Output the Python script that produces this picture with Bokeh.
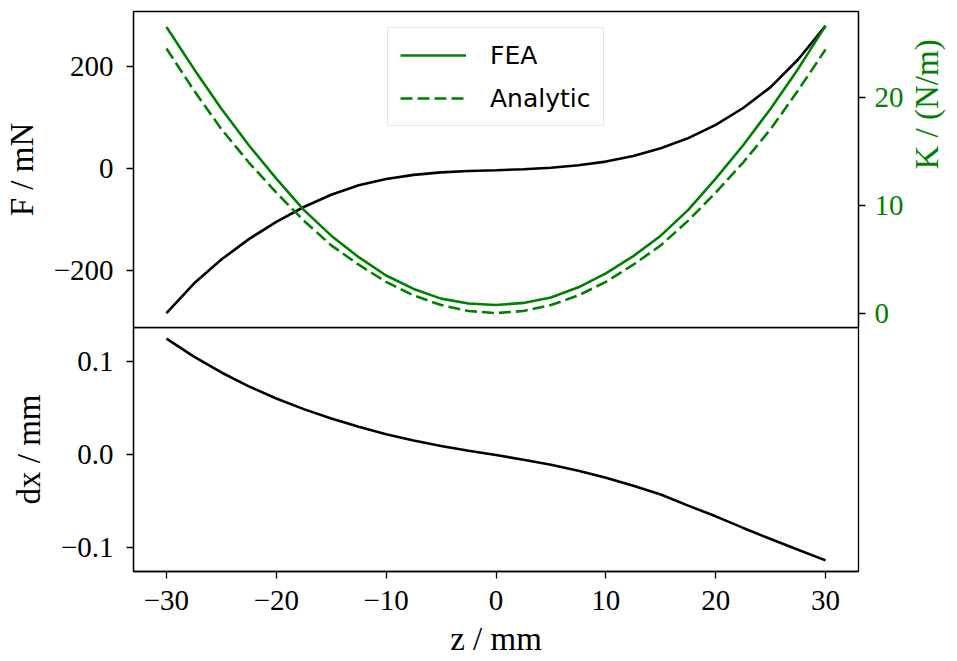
import math
from bokeh.plotting import figure
from bokeh.models import Range1d, LinearAxis, FixedTicker, Legend, LegendItem
from bokeh.layouts import column
from bokeh.embed import file_html
from bokeh.resources import INLINE

# ---------------- data ----------------
z = [-30, -27.5, -25, -22.5, -20, -17.5, -15, -12.5, -10, -7.5, -5, -2.5, 0,
     2.5, 5, 7.5, 10, 12.5, 15, 17.5, 20, 22.5, 25, 27.5, 30]

force_mN = [-283, -225, -178, -138, -104, -75, -51, -32.5, -20, -12, -7.2, -4.5, -3,
            -1, 2, 6.8, 14, 25, 40, 60, 86, 119, 160, 214, 280]

k_fea = [26.6, 22.7, 19.0, 15.6, 12.5, 9.6, 7.2, 5.2, 3.5, 2.25, 1.35, 0.9, 0.75,
         0.95, 1.45, 2.4, 3.7, 5.3, 7.2, 9.6, 12.5, 15.6, 19.0, 22.7, 26.7]

k_analytic = [24.6, 20.7, 17.1, 14.0, 11.2, 8.6, 6.3, 4.5, 2.9, 1.65, 0.75, 0.2, 0.0,
              0.2, 0.75, 1.65, 2.9, 4.5, 6.3, 8.6, 11.2, 14.0, 17.1, 20.7, 24.5]

dx_mm = [0.125, 0.1055, 0.0885, 0.0735, 0.0605, 0.049, 0.039, 0.030, 0.022, 0.0152, 0.0093, 0.0042, -0.0005,
         -0.0055, -0.011, -0.0175, -0.025, -0.0335, -0.043, -0.055, -0.0665, -0.079, -0.091, -0.1025, -0.114]

x_ticks = [-30, -20, -10, 0, 10, 20, 30]
f_ticks = [-200, 0, 200]
k_ticks = [0, 10, 20]
dx_ticks = [-0.1, 0, 0.1]


def padded(lo, hi, frac=0.05):
    m = (hi - lo) * frac
    return lo - m, hi + m


def minus(v):
    return str(v).replace("-", "\u2212")


SERIF = "Liberation Serif"
GREEN = "#008000"


def style_axis(ax, color="black", label_color="black", standoff=13, label_standoff=11):
    ax.major_label_text_font = SERIF
    ax.major_label_text_font_size = "29px"
    ax.major_label_text_color = color
    ax.axis_label_text_font = SERIF
    ax.axis_label_text_font_size = "33px"
    ax.axis_label_text_font_style = "normal"
    ax.axis_label_text_color = label_color
    ax.major_tick_out = 7
    ax.major_tick_in = 0
    ax.minor_tick_line_color = None
    ax.axis_line_width = 1.3
    ax.major_tick_line_width = 1.3
    ax.axis_line_color = "black"
    ax.major_tick_line_color = "black"
    ax.major_label_standoff = standoff
    ax.axis_label_standoff = label_standoff


x_range = Range1d(*padded(min(z), max(z)))

# ---------------- top panel ----------------
top = figure(frame_width=725, frame_height=316,
             min_border_left=133, min_border_right=90, min_border_top=11, min_border_bottom=12,
             x_range=x_range, y_range=Range1d(*padded(min(force_mN), max(force_mN))),
             x_axis_location=None, output_backend="svg", toolbar_location=None, tools="")
top.extra_y_ranges = {"K": Range1d(*padded(min(k_analytic), max(k_fea)))}
top.xgrid.visible = False
top.ygrid.visible = False
top.outline_line_color = "black"
top.outline_line_width = 1.3

top.yaxis.ticker = FixedTicker(ticks=f_ticks)
top.yaxis.major_label_overrides = {t: minus(t) for t in f_ticks}
top.yaxis.axis_label = "F / mN"
style_axis(top.yaxis[0])

raxis = LinearAxis(y_range_name="K", ticker=FixedTicker(ticks=k_ticks), axis_label="K / (N/m)")
style_axis(raxis, color=GREEN, label_color=GREEN, standoff=9, label_standoff=20)
try:
    raxis.axis_label_orientation = math.pi / 2
except Exception:
    pass
top.add_layout(raxis, "right")

top.line(z, force_mN, line_color="black", line_width=2.6)
r_fea = top.line(z, k_fea, line_color=GREEN, line_width=2.6, y_range_name="K")
r_an = top.line(z, k_analytic, line_color=GREEN, line_width=2.6, line_dash="12 5",
                y_range_name="K")

legend = Legend(items=[LegendItem(label="FEA", renderers=[r_fea]),
                       LegendItem(label="Analytic", renderers=[r_an])],
                location=(254, 201), label_text_font="DejaVu Sans", label_text_font_size="25px",
                label_text_color="black", glyph_width=66, glyph_height=30, label_height=30,
                label_standoff=24, spacing=13, padding=12, margin=0,
                border_line_color="#cccccc", border_line_width=1.3,
                background_fill_color="white", background_fill_alpha=0.8)
top.add_layout(legend)

# ---------------- bottom panel ----------------
bot = figure(frame_width=725, frame_height=244,
             min_border_left=133, min_border_right=90, min_border_top=0, min_border_bottom=80,
             x_range=x_range, y_range=Range1d(*padded(min(dx_mm), max(dx_mm))),
             output_backend="svg", toolbar_location=None, tools="",
             margin=(-12, 0, 0, 0))
bot.border_fill_alpha = 0
bot.background_fill_alpha = 0
bot.xgrid.visible = False
bot.ygrid.visible = False
bot.outline_line_color = "black"
bot.outline_line_width = 1.3

bot.xaxis.ticker = FixedTicker(ticks=x_ticks)
bot.xaxis.major_label_overrides = {t: minus(t) for t in x_ticks}
bot.xaxis.axis_label = "z / mm"
style_axis(bot.xaxis[0], standoff=12, label_standoff=8)

bot.yaxis.ticker = FixedTicker(ticks=dx_ticks)
bot.yaxis.major_label_overrides = {-0.1: "\u22120.1", 0: "0.0", 0.1: "0.1"}
bot.yaxis.axis_label = "dx / mm"
style_axis(bot.yaxis[0])

bot.line(z, dx_mm, line_color="black", line_width=2.6)

layout = column(top, bot, spacing=0)
open("out.html", "w").write(file_html(layout, INLINE))
